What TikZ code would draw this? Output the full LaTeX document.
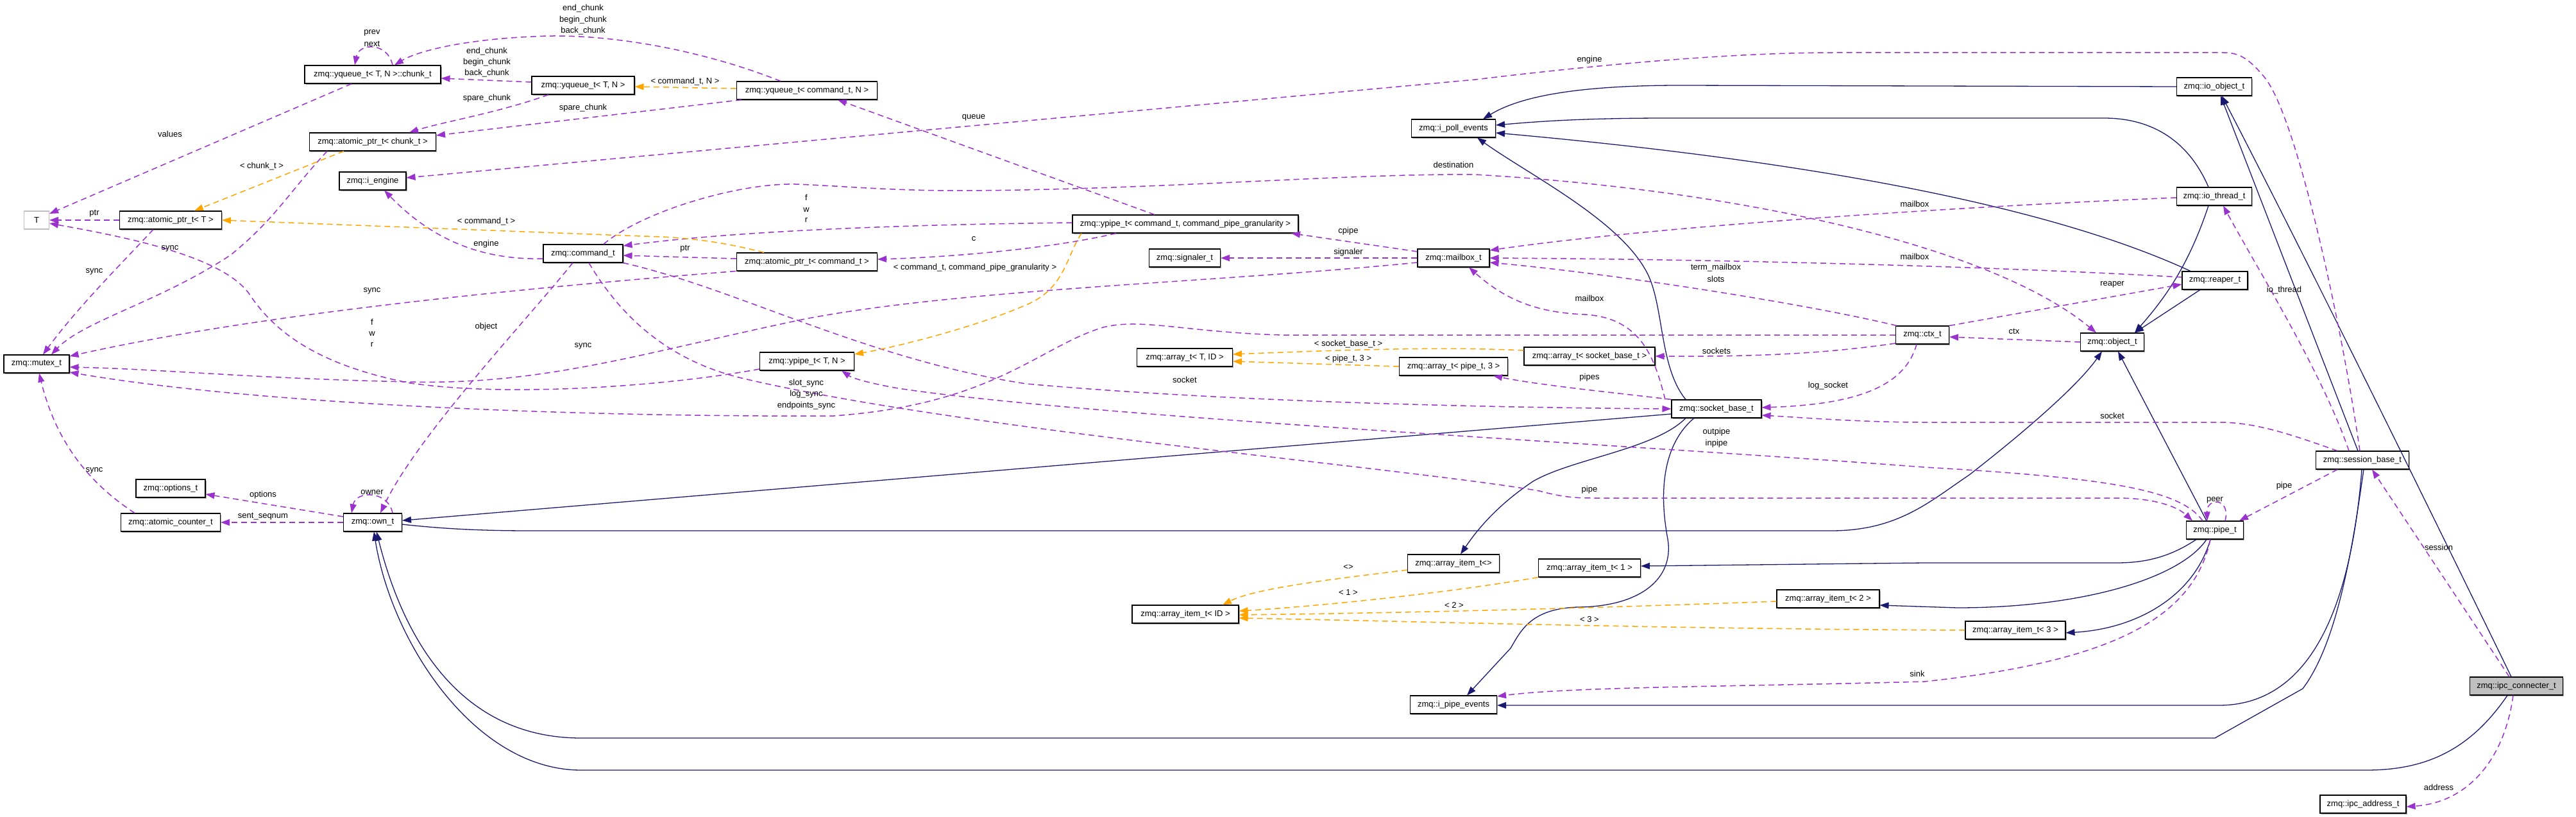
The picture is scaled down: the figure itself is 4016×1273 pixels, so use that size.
\documentclass[tikz,border=0pt]{standalone}
\usepackage{fontspec}
\setmainfont{Liberation Sans}
\usetikzlibrary{arrows.meta}
\definecolor{dblue}{HTML}{191970}
\definecolor{dpurple}{HTML}{9A32CD}
\definecolor{dorange}{HTML}{FFA500}
\definecolor{dgray}{HTML}{BFBFBF}
\newcommand\dxfont{\fontsize{13}{15}\selectfont}
\begin{document}
\begin{tikzpicture}[x=1pt,y=-1pt,
  box/.style={draw=black, line width=1.1pt, fill=white, rectangle, minimum height=28pt, inner sep=0pt, font=\dxfont,
     preaction={fill=gray!65, transform canvas={shift={(1.5pt,-1.8pt)}}}},
  plainbox/.style={draw=dgray, line width=1.1pt, fill=white, rectangle, minimum height=28pt, inner sep=0pt, font=\dxfont},
  lbl/.style={font=\dxfont, inner sep=0pt},
  inh/.style={draw=dblue, line width=1.3pt, -{Triangle[length=14pt,width=10pt]}},
  use/.style={draw=dpurple, line width=1.5pt, dash pattern=on 9pt off 6pt, -{Triangle[length=14pt,width=10pt]}},
  tpl/.style={draw=dorange, line width=1.5pt, dash pattern=on 9pt off 6pt, -{Triangle[length=14pt,width=10pt]}}]
\fill[white] (0,0) rectangle (4016,1273);
\useasboundingbox (0,0) rectangle (4016,1273);

% ---------------- nodes
\node[box, minimum width=212pt] (chunk) at (581,116) {zmq::yqueue\_t< T, N >::chunk\_t};
\node[box, minimum width=160pt] (yqTN) at (909,133) {zmq::yqueue\_t< T, N >};
\node[box, minimum width=219pt] (yqCmd) at (1258,141) {zmq::yqueue\_t< command\_t, N >};
\node[box, minimum width=197pt] (apChunk) at (581,221) {zmq::atomic\_ptr\_t< chunk\_t >};
\node[box, minimum width=104pt] (iEngine) at (581,282) {zmq::i\_engine};
\node[plainbox, minimum width=39pt] (T) at (57,343) {T};
\node[box, minimum width=159pt] (apT) at (266,343) {zmq::atomic\_ptr\_t< T >};
\node[box, minimum width=124pt] (command) at (909,395) {zmq::command\_t};
\node[box, minimum width=352pt] (ypCmd) at (1848,349) {zmq::ypipe\_t< command\_t, command\_pipe\_granularity >};
\node[box, minimum width=219pt] (apCmd) at (1258,408) {zmq::atomic\_ptr\_t< command\_t >};
\node[box, minimum width=111pt] (signaler) at (1847,402) {zmq::signaler\_t};
\node[box, minimum width=131pt] (iPoll) at (2266,200) {zmq::i\_poll\_events};
\node[box, minimum width=112pt] (mailbox) at (2266,402) {zmq::mailbox\_t};
\node[box, minimum width=117pt] (ioObject) at (3452,135) {zmq::io\_object\_t};
\node[box, minimum width=117pt] (ioThread) at (3452,306) {zmq::io\_thread\_t};
\node[box, minimum width=102pt] (reaper) at (3453,437) {zmq::reaper\_t};
\node[box, minimum width=83pt] (ctx) at (2997,522) {zmq::ctx\_t};
\node[box, minimum width=99pt] (object) at (3293,533) {zmq::object\_t};
\node[box, minimum width=102pt] (mutex) at (57,567) {zmq::mutex\_t};
\node[box, minimum width=147pt] (ypTN) at (1258,563) {zmq::ypipe\_t< T, N >};
\node[box, minimum width=149pt] (arrayTID) at (1847,557) {zmq::array\_t< T, ID >};
\node[box, minimum width=204pt] (arraySock) at (2478,555) {zmq::array\_t< socket\_base\_t >};
\node[box, minimum width=169pt] (arrayPipe) at (2266,571) {zmq::array\_t< pipe\_t, 3 >};
\node[box, minimum width=140pt] (socketBase) at (2676,637) {zmq::socket\_base\_t};
\node[box, minimum width=108pt] (options) at (266,761) {zmq::options\_t};
\node[box, minimum width=155pt] (atomicCounter) at (266,814) {zmq::atomic\_counter\_t};
\node[box, minimum width=91pt] (own) at (581,814) {zmq::own\_t};
\node[box, minimum width=145pt] (session) at (3683,717) {zmq::session\_base\_t};
\node[box, minimum width=89pt] (pipe) at (3453,826) {zmq::pipe\_t};
\node[box, minimum width=166pt] (arrayItemID) at (1848,957) {zmq::array\_item\_t< ID >};
\node[box, minimum width=143pt] (arrayItemE) at (2266,878) {zmq::array\_item\_t<>};
\node[box, minimum width=159pt] (arrayItem1) at (2478,885) {zmq::array\_item\_t< 1 >};
\node[box, minimum width=160pt] (arrayItem2) at (2850,933) {zmq::array\_item\_t< 2 >};
\node[box, minimum width=156pt] (arrayItem3) at (3142,982) {zmq::array\_item\_t< 3 >};
\node[box, minimum width=135pt] (iPipe) at (2266,1098) {zmq::i\_pipe\_events};
\node[box, fill=dgray, minimum width=145pt] (ipcConnecter) at (3923,1069) {zmq::ipc\_connecter\_t};
\node[box, minimum width=134pt] (ipcAddress) at (3684,1253) {zmq::ipc\_address\_t};

% ---------------- inheritance
\draw[inh] (ioObject.west) -- (2620,133) .. controls (2460,133) and (2370,150) .. ([xshift=46pt]iPoll.north);
\draw[inh] ([xshift=-9pt]ioThread.north) .. controls (3410,215) and (3350,184) .. (3280,184) -- (2600,184) .. controls (2460,184) and (2390,190) .. ([yshift=5pt]iPoll.east);
\draw[inh] ([xshift=-38pt]reaper.north) .. controls (3150,300) and (2700,240) .. ([yshift=-7pt]iPoll.east);
\draw[inh] ([xshift=-48pt]socketBase.north) .. controls (2585,570) and (2595,470) .. (2565,420) .. controls (2520,340) and (2380,270) .. ([xshift=37pt]iPoll.south);
\draw[inh] ([yshift=-8pt]socketBase.west) -- ([yshift=3pt]own.east);
\draw[inh] ([yshift=-3pt]own.east) .. controls (700,825) and (760,827) .. (829,827) -- (2855,827) .. controls (2960,827) and (3010,780) .. (3070,740) .. controls (3160,670) and (3240,600) .. ([xshift=-16pt]object.south);
\draw[inh] ([xshift=-13pt]pipe.north) -- ([xshift=9pt]object.south);
\draw[inh] ([xshift=-9pt]ioThread.south) .. controls (3410,420) and (3370,470) .. ([xshift=35pt]object.north);
\draw[inh] ([xshift=-23pt]reaper.south) -- ([xshift=35pt]object.north);
\draw[inh] ([xshift=-7pt]session.north) -- ([xshift=10pt]ioObject.south);
\draw[inh] ([xshift=-8pt]ipcConnecter.north) .. controls (3830,880) and (3620,450) .. ([xshift=12pt]ioObject.south);
\draw[inh] ([xshift=-1pt]session.south) .. controls (3665,950) and (3600,1099) .. (3459,1099) -- ([yshift=-1pt]iPipe.east);
\draw[inh] ([xshift=2pt]session.south) .. controls (3668,850) and (3645,1000) .. (3590,1073) -- (3453,1150) -- (906,1150) .. controls (720,1150) and (630,1000) .. ([xshift=6pt]own.south);
\draw[inh] ([xshift=-14pt]ipcConnecter.south) .. controls (3850,1170) and (3780,1200) .. (3689,1200) -- (906,1200) .. controls (740,1200) and (610,1000) .. ([xshift=2pt]own.south);
\draw[inh] ([xshift=-48pt]socketBase.south) .. controls (2580,700) and (2450,715) .. (2390,750) .. controls (2330,790) and (2300,830) .. ([xshift=11pt]arrayItemE.north);
\draw[inh] ([xshift=-35pt]socketBase.south) .. controls (2595,690) and (2585,760) .. (2600,840) .. controls (2610,900) and (2560,945) .. (2460,946) .. controls (2385,948) and (2370,985) .. (2355,1010) -- ([xshift=21pt]iPipe.north);
\draw[inh] ([xshift=-29pt]pipe.south) .. controls (3380,870) and (3340,877) .. (3300,877) -- (3000,877) -- ([yshift=3pt]arrayItem1.east);
\draw[inh] ([xshift=-13pt]pipe.south) .. controls (3400,900) and (3250,947) .. (3051,947) -- ([yshift=-10pt]arrayItem2.east);
\draw[inh] ([xshift=-7pt]pipe.south) .. controls (3420,930) and (3330,980) .. ([yshift=-4pt]arrayItem3.east);

% ---------------- usage
\draw[use] ([xshift=31pt]chunk.north) .. controls (605,66) and (560,66) .. ([xshift=-28pt]chunk.north);
\draw[use] ([xshift=-41pt]yqCmd.north) .. controls (1100,80) and (950,50) .. (830,57) .. controls (720,62) and (650,80) .. ([xshift=34pt]chunk.north);
\draw[use] ([yshift=5pt]yqTN.west) -- ([yshift=-6pt]chunk.east);
\draw[use] ([xshift=-54pt]yqTN.south) .. controls (780,175) and (690,190) .. ([xshift=57pt]apChunk.north);
\draw[use] ([xshift=-102pt]yqCmd.south) -- ([yshift=10pt]apChunk.east);
\draw[use] ([xshift=-33pt]chunk.south) -- ([yshift=10pt]T.east);
\draw[use] ([xshift=-71pt]apChunk.south) .. controls (450,300) and (430,340) .. (360,397) .. controls (250,470) and (130,500) .. ([xshift=23pt]mutex.north);
\draw[use] ([xshift=-27pt]apT.south) .. controls (190,410) and (120,480) .. ([xshift=10pt]mutex.north);
\draw[use] (apT.west) -- (T.east);
\draw[use] ([yshift=5pt]apCmd.west) -- ([yshift=-3pt]command.east);
\draw[use] ([yshift=2pt]ypCmd.west) .. controls (1400,350) and (1150,360) .. ([yshift=12pt]command.east);
\draw[use] ([xshift=-48pt]ypCmd.north) -- ([xshift=48pt]yqCmd.south);
\draw[use] ([xshift=-108pt]ypCmd.south) .. controls (1650,385) and (1500,400) .. ([yshift=4pt]apCmd.east);
\draw[use] ([yshift=10pt]mailbox.west) -- ([xshift=165pt]ypCmd.south);
\draw[use] (mailbox.west) -- (signaler.east);
\draw[use] ([yshift=-7pt]mailbox.west) .. controls (1900,440) and (1500,450) .. (1255,497) .. controls (1000,550) and (850,600) .. (638,595) .. controls (400,590) and (250,575) .. ([yshift=-5pt]mutex.east);
\draw[use] ([xshift=-111pt]apCmd.south) .. controls (800,450) and (400,490) .. ([yshift=12pt]mutex.east);
\draw[use] (ctx.west) -- (2000,522) .. controls (1850,518) and (1780,495) .. (1720,510) .. controls (1620,540) and (1550,630) .. (1300,648) .. controls (900,650) and (400,630) .. ([yshift=-13pt]mutex.east);
\draw[use] ([xshift=-40pt]ctx.north) .. controls (2800,470) and (2500,425) .. ([yshift=-7pt]mailbox.east);
\draw[use] ([yshift=-2pt]ioThread.west) .. controls (3100,320) and (2600,350) .. ([yshift=12pt]mailbox.east);
\draw[use] ([yshift=5pt]reaper.west) .. controls (3200,420) and (2800,405) .. (mailbox.east);
\draw[use] ([xshift=-80pt]socketBase.north) .. controls (2580,560) and (2560,495) .. (2470,490) .. controls (2400,487) and (2350,470) .. ([xshift=24pt]mailbox.south);
\draw[use] ([xshift=-4pt]session.north) .. controls (3650,500) and (3580,180) .. (3530,120) .. controls (3505,90) and (3490,82) .. (3466,82) -- (2860,82) .. controls (2700,82) and (2500,100) .. (2300,124) -- ([yshift=5pt]iEngine.east);
\draw[use] ([yshift=-8pt]command.west) .. controls (760,405) and (680,380) .. ([xshift=18pt]iEngine.south);
\draw[use] ([xshift=32pt]command.north) .. controls (1000,330) and (1150,285) .. (1240,287) .. controls (1320,290) and (1380,297) .. (1500,297) .. controls (1800,296) and (2100,270) .. (2300,272) .. controls (2700,295) and (3100,380) .. ([xshift=-25pt]object.north);
\draw[use] ([xshift=-16pt]command.south) .. controls (820,500) and (650,680) .. ([xshift=12pt]own.north);
\draw[use] (command.south east) .. controls (1150,450) and (1350,560) .. (1600,598) .. controls (1900,625) and (2300,635) .. (socketBase.west);
\draw[use] ([xshift=9pt]command.south) .. controls (960,480) and (1030,560) .. (1160,590) .. controls (1500,670) and (2200,730) .. (2400,765) .. controls (2430,773) and (2450,776) .. (2480,776) -- (3300,776) .. controls (3360,776) and (3395,790) .. ([xshift=-35pt]pipe.north);
\draw[use] ([yshift=-12pt]ypTN.west) .. controls (1050,600) and (800,620) .. (640,597) .. controls (500,570) and (430,520) .. (390,460) .. controls (350,400) and (200,370) .. ([yshift=-5pt]T.east);
\draw[use] ([xshift=-19pt]pipe.north) .. controls (3400,765) and (3300,745) .. (3000,728) .. controls (2500,690) and (1700,650) .. (1400,605) .. controls (1360,598) and (1330,590) .. ([xshift=54pt]ypTN.south);
\draw[use] ([yshift=-13pt]ctx.west) .. controls (2850,550) and (2750,556) .. (arraySock.east);
\draw[use] ([xshift=-9pt]ctx.south) .. controls (2970,600) and (2900,630) .. ([yshift=2pt]socketBase.east);
\draw[use] (ctx.north east) -- ([yshift=-6pt]reaper.west);
\draw[use] (object.west) -- ([yshift=-3pt]ctx.east);
\draw[use] (socketBase.north west) .. controls (2500,610) and (2400,600) .. ([xshift=62pt]arrayPipe.south);
\draw[use] ([xshift=-39pt]session.north) .. controls (3580,680) and (3520,658) .. (3460,658) -- (3000,658) .. controls (2900,658) and (2800,650) .. ([yshift=-10pt]socketBase.east);
\draw[use] ([xshift=-21pt]session.north) .. controls (3620,580) and (3520,420) .. ([xshift=14pt]ioThread.south);
\draw[use] ([xshift=-39pt]session.south) -- ([xshift=38pt]pipe.north);
\draw[use] ([xshift=16pt]pipe.north) .. controls (3478,775) and (3440,775) .. ([xshift=-12pt]pipe.north);
\draw[use] ([xshift=-7pt]pipe.south) .. controls (3420,960) and (3300,1030) .. (3000,1062) .. controls (2700,1070) and (2450,1070) .. ([yshift=13pt]iPipe.east);
\draw[use] ([xshift=31pt]own.north) .. controls (605,764) and (555,764) .. ([xshift=-33pt]own.north);
\draw[use] ([yshift=9pt]own.west) -- ([yshift=-9pt]options.east);
\draw[use] (own.west) -- (atomicCounter.east);
\draw[use] ([xshift=-56pt]atomicCounter.north) .. controls (150,760) and (90,700) .. ([xshift=4pt]mutex.south);
\draw[use] ([xshift=-11pt]ipcConnecter.north) -- ([xshift=15pt]session.south);
\draw[use] ([xshift=-5pt]ipcConnecter.south) .. controls (3905,1180) and (3850,1250) .. ([yshift=-4pt]ipcAddress.east);

% ---------------- template instances
\draw[tpl] ([yshift=3pt]yqCmd.west) -- ([yshift=-2pt]yqTN.east);
\draw[tpl] ([xshift=-45pt]apChunk.south) -- ([xshift=37pt]apT.north);
\draw[tpl] ([xshift=-67pt]apCmd.north) .. controls (1120,375) and (1060,369) .. (1000,368) -- (apT.east);
\draw[tpl] ([xshift=-162pt]ypCmd.south) .. controls (1662,400) and (1660,450) .. (1600,475) .. controls (1520,510) and (1400,540) .. ([yshift=11pt]ypTN.east);
\draw[tpl] ([yshift=9pt]arraySock.west) .. controls (2250,540) and (2100,545) .. ([yshift=5pt]arrayTID.east);
\draw[tpl] (arrayPipe.west) -- ([yshift=-6pt]arrayTID.east);
\draw[tpl] ([yshift=-10pt]arrayItemE.west) .. controls (2100,900) and (1960,915) .. ([xshift=58pt]arrayItemID.north);
\draw[tpl] (arrayItem1.south west) .. controls (2250,925) and (2050,945) .. ([yshift=5pt]arrayItemID.east);
\draw[tpl] ([yshift=-4pt]arrayItem2.west) .. controls (2500,947) and (2200,955) .. ([yshift=-1pt]arrayItemID.east);
\draw[tpl] (arrayItem3.west) .. controls (2600,980) and (2200,968) .. ([yshift=-6pt]arrayItemID.east);

% ---------------- labels
\node[lbl] (l1) at (580,51) {prev};
\node[lbl] (l2) at (580,68) {next};
\node[lbl] (l3) at (909,13) {end\_chunk};
\node[lbl] (l4) at (909,31) {begin\_chunk};
\node[lbl] (l5) at (909,48) {back\_chunk};
\node[lbl] (l6) at (759,80) {end\_chunk};
\node[lbl] (l7) at (759,97) {begin\_chunk};
\node[lbl] (l8) at (759,114) {back\_chunk};
\node[lbl] (l9) at (1068,127) {< command\_t, N >};
\node[lbl] (l10) at (759,153) {spare\_chunk};
\node[lbl] (l11) at (909,168) {spare\_chunk};
\node[lbl] (l12) at (265,209) {values};
\node[lbl] (l13) at (408,259) {< chunk\_t >};
\node[lbl] (l14) at (1518,183) {queue};
\node[lbl] (l15) at (2478,93) {engine};
\node[lbl] (l16) at (2266,257) {destination};
\node[lbl] (l17) at (147,333) {ptr};
\node[lbl] (l18) at (758,345) {< command\_t >};
\node[lbl] (l19) at (758,380) {engine};
\node[lbl] (l20) at (1257,308) {f};
\node[lbl] (l21) at (1257,327) {w};
\node[lbl] (l22) at (1257,343) {r};
\node[lbl] (l23) at (1518,372) {c};
\node[lbl] (l24) at (1068,388) {ptr};
\node[lbl] (l25) at (1520,417) {< command\_t, command\_pipe\_granularity >};
\node[lbl] (l26) at (2102,360) {cpipe};
\node[lbl] (l27) at (2102,393) {signaler};
\node[lbl] (l28) at (265,387) {sync};
\node[lbl] (l29) at (147,423) {sync};
\node[lbl] (l30) at (580,453) {sync};
\node[lbl] (l31) at (580,502) {f};
\node[lbl] (l32) at (580,520) {w};
\node[lbl] (l33) at (580,537) {r};
\node[lbl] (l34) at (758,509) {object};
\node[lbl] (l35) at (909,539) {sync};
\node[lbl] (l36) at (1257,597) {slot\_sync};
\node[lbl] (l37) at (1257,614) {log\_sync};
\node[lbl] (l38) at (1257,632) {endpoints\_sync};
\node[lbl] (l39) at (1847,592) {socket};
\node[lbl] (l40) at (2675,417) {term\_mailbox};
\node[lbl] (l41) at (2675,435) {slots};
\node[lbl] (l42) at (2985,318) {mailbox};
\node[lbl] (l43) at (2985,400) {mailbox};
\node[lbl] (l44) at (2478,465) {mailbox};
\node[lbl] (l45) at (2102,536) {< socket\_base\_t >};
\node[lbl] (l46) at (2102,559) {< pipe\_t, 3 >};
\node[lbl] (l47) at (2676,547) {sockets};
\node[lbl] (l48) at (2478,588) {pipes};
\node[lbl] (l49) at (2850,601) {log\_socket};
\node[lbl] (l50) at (2676,673) {outpipe};
\node[lbl] (l51) at (2676,691) {inpipe};
\node[lbl] (l52) at (2478,763) {pipe};
\node[lbl] (l53) at (3293,443) {reaper};
\node[lbl] (l54) at (3140,516) {ctx};
\node[lbl] (l55) at (3561,452) {io\_thread};
\node[lbl] (l56) at (3293,648) {socket};
\node[lbl] (l57) at (3561,757) {pipe};
\node[lbl] (l58) at (3453,779) {peer};
\node[lbl] (l59) at (580,767) {owner};
\node[lbl] (l60) at (410,771) {options};
\node[lbl] (l61) at (410,805) {sent\_seqnum};
\node[lbl] (l62) at (147,733) {sync};
\node[lbl] (l63) at (2102,884) {<>};
\node[lbl] (l64) at (2102,923) {< 1 >};
\node[lbl] (l65) at (2267,943) {< 2 >};
\node[lbl] (l66) at (2478,965) {< 3 >};
\node[lbl] (l67) at (2989,1050) {sink};
\node[lbl] (l68) at (3802,853) {session};
\node[lbl] (l69) at (3802,1227) {address};
\end{tikzpicture}
\end{document}
